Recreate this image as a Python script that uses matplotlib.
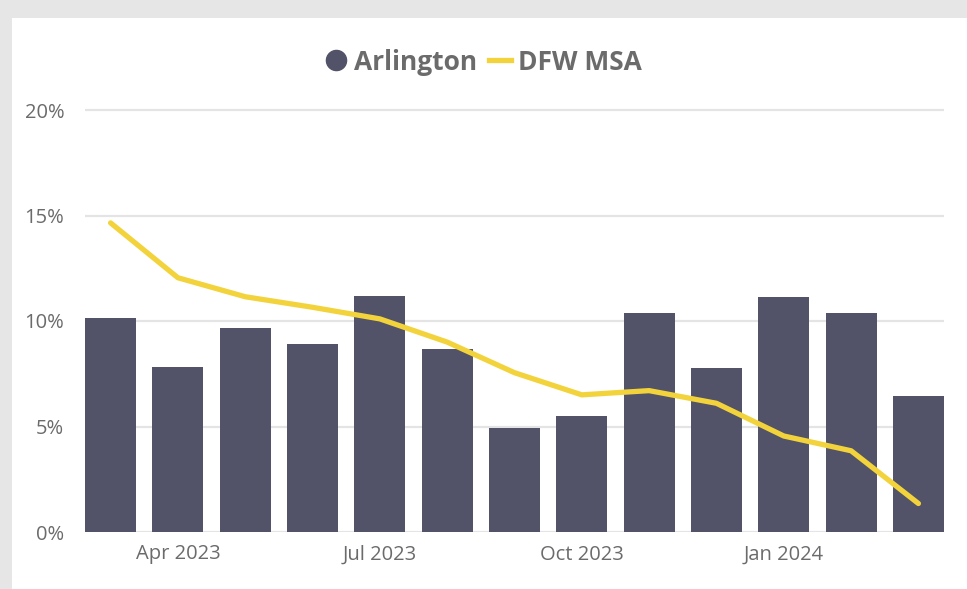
import matplotlib
matplotlib.use("Agg")
import matplotlib.pyplot as plt
from matplotlib.patches import Rectangle
from matplotlib.lines import Line2D

months = ["Mar 2023", "Apr 2023", "May 2023", "Jun 2023", "Jul 2023", "Aug 2023",
          "Sep 2023", "Oct 2023", "Nov 2023", "Dec 2023", "Jan 2024", "Feb 2024", "Mar 2024"]
arlington = [10.15, 7.8, 9.65, 8.9, 11.2, 8.65, 4.95, 5.5, 10.4, 7.75, 11.15, 10.4, 6.45]
dfw_msa = [14.65, 12.05, 11.15, 10.65, 10.1, 9.0, 7.55, 6.5, 6.7, 6.1, 4.55, 3.85, 1.35]
tick_labels = ["Apr 2023", "Jul 2023", "Oct 2023", "Jan 2024"]
y_ticks = [0, 5, 10, 15, 20]

plt.rcParams['font.family'] = ['Open Sans', 'DejaVu Sans']

W, H = 967, 589
fig = plt.figure(figsize=(W / 100, H / 100), dpi=100, facecolor="#e6e6e6")
fig.patches.append(Rectangle((12 / W, 0), 1 - 12 / W, (H - 18) / H,
                             transform=fig.transFigure, facecolor="white",
                             edgecolor="none", zorder=-10))

ymax = 20.5
px_per_unit = (532 - 110) / 20
top_px = 532 - ymax * px_per_unit
ax = fig.add_axes([85 / W, (H - 532) / H, (944 - 85) / W, (532 - top_px) / H])
ax.set_facecolor("none")
ax.set_zorder(5)

x = list(range(len(months)))
bar_color = "#525268"
line_color = "#F3D33C"
text_color = "#6b6b6b"
bw = 0.76

ax.bar(x, arlington, width=bw, color=bar_color, zorder=2)
ax.plot(x, dfw_msa, color=line_color, lw=3.8, solid_capstyle="round",
        solid_joinstyle="round", zorder=3)

ax.set_xlim(-bw / 2, len(months) - 1 + bw / 2)
ax.set_ylim(0, ymax)
ax.set_yticks(y_ticks)
ax.set_yticklabels([f"{v}%" for v in y_ticks])
ax.set_xticks([months.index(m) for m in tick_labels])
ax.set_xticklabels(tick_labels)
ax.grid(axis="y", color="#e4e4e4", lw=1.6, zorder=0)
ax.set_axisbelow(True)
for s in ax.spines.values():
    s.set_visible(False)
ax.tick_params(axis="both", length=0, colors=text_color, labelsize=14.5)
ax.tick_params(axis="y", pad=15)
ax.tick_params(axis="x", pad=9)

handles = [Line2D([], [], marker="o", ls="none", color=bar_color, markersize=14.5),
           Line2D([], [], color=line_color, lw=3.8)]
leg = fig.legend(handles, ["Arlington", "DFW MSA"], loc="center",
                 bbox_to_anchor=(0.5, 1 - 62 / H), ncol=2, frameon=False,
                 handlelength=0.85, handletextpad=0.25, columnspacing=0.45,
                 prop={"size": 19, "weight": "bold"})
for t in leg.get_texts():
    t.set_color(text_color)

fig.savefig("out.png", dpi=100, facecolor=fig.get_facecolor())
